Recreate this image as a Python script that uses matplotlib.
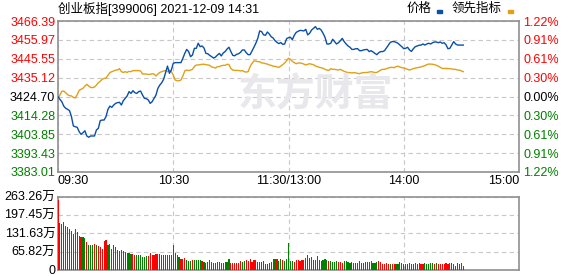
import matplotlib
matplotlib.use("Agg")
import matplotlib.pyplot as plt
from matplotlib.patches import Rectangle
import numpy as np

plt.rcParams['font.family'] = ['Liberation Sans', 'Noto Sans CJK SC', 'DejaVu Sans']

title = "创业板指[399006] 2021-12-09 14:31"
prev_close = 3424.70
price_ticks = [3466.39, 3455.97, 3445.55, 3435.12, 3424.70, 3414.28, 3403.85, 3393.43, 3383.01]
pct_labels = ["1.22%", "0.91%", "0.61%", "0.30%", "0.00%", "0.30%", "0.61%", "0.91%", "1.22%"]
time_ticks = [0, 60, 120, 180, 240]
time_labels = ["09:30", "10:30", "11:30/13:00", "14:00", "15:00"]
vol_ticks = [0, 65.82, 131.63, 197.45, 263.26]
vol_labels = ["0", "65.82万", "131.63万", "197.45万", "263.26万"]

# minute prices, 09:30 .. 14:31
price = [
    3424.6, 3423.1, 3421.8, 3419.4, 3418.2, 3417.6, 3416.9, 3413.6, 3408.4, 3408.0,
    3407.7, 3405.3, 3403.8, 3404.7, 3405.8, 3402.9, 3402.2, 3402.9, 3402.9, 3402.9,
    3406.2, 3407.1, 3411.4, 3411.7, 3411.7, 3413.6, 3417.6, 3419.4, 3418.7, 3420.0,
    3420.9, 3421.3, 3421.5, 3420.0, 3422.4, 3423.7, 3425.0, 3427.4, 3426.4, 3427.9,
    3426.8, 3426.4, 3427.4, 3427.7, 3425.5, 3423.7, 3423.5, 3422.8, 3420.9, 3421.8,
    3423.7, 3425.5, 3429.2, 3431.0, 3432.3, 3434.2, 3437.9, 3441.5, 3437.5, 3439.3,
    3443.0, 3443.4, 3443.4, 3443.4, 3443.4, 3445.8, 3448.5, 3450.7, 3449.5, 3446.7,
    3447.6, 3451.3, 3451.3, 3454.1, 3452.2, 3452.6, 3451.5, 3448.5, 3448.3, 3447.4,
    3446.7, 3445.9, 3446.5, 3447.6, 3448.5, 3447.1, 3448.7, 3449.5, 3450.9, 3451.9,
    3449.5, 3447.4, 3447.2, 3448.0, 3448.3, 3449.1, 3450.4, 3450.4, 3448.9, 3447.8,
    3447.8, 3449.8, 3451.9, 3454.1, 3456.8, 3460.9, 3460.5, 3458.8, 3458.5, 3460.3,
    3459.2, 3457.7, 3457.0, 3455.5, 3454.6, 3453.9, 3454.5, 3453.5, 3453.7, 3456.6,
    3457.2, 3457.4, 3456.1, 3458.5, 3460.1, 3460.7, 3461.2, 3461.1, 3460.9, 3461.8,
    3458.7, 3459.6, 3461.4, 3462.3, 3463.3, 3461.8, 3462.3, 3461.4, 3459.6, 3457.4,
    3453.7, 3453.7, 3454.1, 3456.3, 3455.0, 3453.7, 3454.4, 3455.5, 3456.8, 3455.0,
    3453.7, 3452.6, 3451.9, 3450.7, 3450.7, 3451.1, 3451.1, 3450.0, 3450.0, 3450.4,
    3450.6, 3450.7, 3449.5, 3450.0, 3449.3, 3448.5, 3447.8, 3448.9, 3449.5, 3449.5,
    3450.0, 3451.5, 3453.1, 3454.6, 3455.0, 3455.0, 3454.6, 3454.1, 3453.1, 3452.2,
    3451.1, 3451.3, 3451.9, 3450.4, 3449.6, 3451.1, 3452.2, 3452.6, 3453.0, 3453.1,
    3453.7, 3453.1, 3453.7, 3454.1, 3453.7, 3454.4, 3454.8, 3454.8, 3454.4, 3454.8,
    3454.1, 3454.4, 3453.3, 3451.1, 3451.3, 3453.1, 3455.0, 3453.7, 3453.1, 3453.1,
    3453.1, 3453.1,
]

# leading indicator
lead = [
    3423.5, 3425.5, 3427.6, 3427.7, 3426.8, 3425.7, 3425.2, 3425.0, 3424.2, 3423.9,
    3425.7, 3428.1, 3428.7, 3429.2, 3430.5, 3431.4, 3430.5, 3429.7, 3429.6, 3429.9,
    3431.0, 3432.3, 3433.1, 3434.2, 3434.7, 3434.9, 3436.4, 3437.9, 3438.4, 3438.8,
    3439.3, 3439.3, 3440.1, 3438.4, 3438.0, 3438.4, 3438.0, 3438.6, 3438.4, 3439.0,
    3439.0, 3439.0, 3439.0, 3438.8, 3437.1, 3437.1, 3437.1, 3436.9, 3436.9, 3437.3,
    3437.1, 3436.0, 3437.1, 3438.0, 3438.4, 3438.8, 3439.0, 3438.4, 3439.3, 3438.4,
    3436.6, 3433.8, 3433.4, 3433.4, 3433.8, 3436.0, 3438.8, 3439.3, 3439.0, 3439.3,
    3439.7, 3441.2, 3442.1, 3442.1, 3442.3, 3442.5, 3442.5, 3442.3, 3442.1, 3441.9,
    3441.0, 3440.8, 3440.4, 3441.2, 3441.2, 3441.7, 3441.9, 3441.9, 3442.5, 3442.3,
    3440.2, 3439.3, 3439.1, 3439.1, 3439.1, 3438.8, 3439.0, 3438.4, 3438.2, 3438.4,
    3441.2, 3443.0, 3444.3, 3444.3, 3443.9, 3443.9, 3443.2, 3443.2, 3442.8, 3442.6,
    3442.1, 3441.9, 3441.4, 3441.4, 3441.0, 3440.8, 3441.5, 3442.3, 3443.2, 3444.5,
    3445.8, 3445.2, 3444.1, 3443.4, 3442.8, 3443.2, 3443.2, 3443.0, 3442.6, 3442.1,
    3442.5, 3442.8, 3442.5, 3442.3, 3441.5, 3441.2, 3440.8, 3440.6, 3440.3, 3439.7,
    3439.3, 3439.1, 3440.1, 3439.7, 3439.7, 3439.5, 3439.3, 3439.7, 3439.1, 3438.6,
    3438.2, 3437.9, 3437.9, 3437.7, 3437.9, 3437.7, 3437.5, 3437.3, 3437.7, 3437.9,
    3437.9, 3438.0, 3438.2, 3438.4, 3438.2, 3437.9, 3438.0, 3438.6, 3439.3, 3439.7,
    3439.7, 3440.1, 3440.4, 3440.8, 3440.8, 3440.6, 3441.2, 3441.4, 3441.0, 3440.6,
    3440.4, 3440.1, 3439.7, 3439.3, 3439.7, 3440.1, 3440.4, 3440.6, 3440.8, 3441.0,
    3441.4, 3441.7, 3442.3, 3442.6, 3442.6, 3442.5, 3442.3, 3441.9, 3441.4, 3440.8,
    3440.2, 3440.2, 3440.2, 3440.1, 3440.1, 3439.9, 3439.7, 3439.7, 3439.3, 3439.3,
    3438.8, 3438.4,
]

# volume per minute (万手) and up/down flag (1 = red, 0 = green)
volume = [
    250, 168, 165, 172, 157, 154, 146, 139, 128, 146,
    135, 123, 117, 117, 113, 102, 91, 91, 91, 94,
    91, 85, 82, 77, 104, 106, 89, 94, 77, 88,
    82, 73, 69, 73, 67, 65, 61, 62, 57, 57,
    55, 55, 52, 55, 48, 48, 49, 51, 61, 55,
    55, 57, 57, 57, 55, 55, 55, 55, 55, 55,
    88, 61, 55, 45, 40, 40, 43, 37, 33, 33,
    35, 35, 35, 35, 35, 34, 28, 24, 28, 35,
    28, 24, 24, 28, 28, 24, 24, 28, 30, 40,
    24, 24, 24, 24, 24, 33, 30, 33, 35, 33,
    40, 30, 35, 35, 28, 28, 28, 33, 21, 21,
    24, 28, 40, 40, 40, 33, 40, 35, 33, 40,
    98, 33, 33, 28, 35, 35, 33, 35, 37, 43,
    55, 43, 48, 35, 35, 51, 35, 33, 35, 40,
    37, 33, 33, 30, 30, 33, 30, 27, 26, 33,
    33, 30, 26, 29, 26, 26, 26, 33, 26, 26,
    30, 28, 30, 33, 26, 26, 28, 33, 28, 22,
    22, 26, 23, 22, 22, 20, 22, 22, 30, 26,
    20, 22, 22, 26, 23, 22, 26, 23, 26, 22,
    22, 26, 23, 22, 26, 26, 23, 26, 22, 22,
    22, 22, 26, 22, 26, 26, 22, 15, 24, 22,
    24, 15,
]
up = [
    1, 0, 1, 0, 1, 0, 0, 0, 1, 0,
    0, 1, 1, 0, 0, 1, 0, 0, 0, 1,
    0, 1, 1, 1, 1, 1, 0, 1, 1, 0,
    1, 1, 1, 1, 1, 0, 0, 0, 0, 1,
    1, 0, 0, 0, 0, 0, 0, 1, 1, 1,
    1, 1, 1, 1, 1, 1, 1, 1, 1, 1,
    0, 0, 0, 0, 1, 1, 1, 0, 0, 0,
    1, 0, 0, 0, 0, 1, 0, 0, 1, 0,
    0, 1, 1, 1, 1, 0, 0, 1, 0, 0,
    1, 1, 1, 1, 1, 1, 0, 0, 1, 1,
    1, 1, 1, 1, 0, 0, 1, 0, 0, 0,
    0, 0, 0, 0, 1, 0, 0, 1, 0, 0,
    0, 0, 0, 1, 1, 1, 1, 1, 0, 1,
    0, 1, 1, 0, 0, 0, 0, 1, 0, 0,
    0, 1, 0, 0, 0, 0, 1, 1, 1, 0,
    0, 0, 0, 1, 1, 0, 0, 0, 1, 1,
    0, 0, 0, 0, 0, 0, 0, 1, 1, 1,
    1, 1, 1, 0, 1, 1, 0, 0, 1, 1,
    1, 0, 0, 1, 0, 0, 1, 1, 1, 1,
    1, 0, 0, 0, 0, 0, 1, 0, 1, 1,
    1, 1, 1, 1, 0, 0, 1, 0, 1, 0,
    1, 0,
]

RED = '#ff0000'
GREEN = '#008000'
BLACK = '#000000'
GRID = '#c8c8c8'
FRAME = '#909090'

t = np.arange(len(price))
lab_colors = [RED, RED, RED, RED, BLACK, GREEN, GREEN, GREEN, GREEN]

fig = plt.figure(figsize=(5.78, 2.76), dpi=100)
ax = fig.add_axes([58 / 578, 1 - 172 / 276, 461 / 578, 151 / 276])
axv = fig.add_axes([58 / 578, 1 - 270 / 276, 461 / 578, 73.5 / 276])

# watermark
fig.text(0.545, 0.655, "东方财富", fontsize=28, fontweight='bold', color='#e8e8ec',
         ha='center', va='center', family=['Noto Sans CJK SC'], zorder=0)

ax.plot(t, lead, color='#e0a018', lw=1.0, zorder=3)
ax.plot(t, price, color='#0a4fa8', lw=1.0, zorder=4)

ax.set_xlim(0, 240)
ax.set_ylim(price_ticks[-1], price_ticks[0])
ax.set_yticks(price_ticks)
ax.set_yticklabels([f"{v:.2f}" for v in price_ticks], fontsize=9)
for lbl, c in zip(ax.get_yticklabels(), lab_colors):
    lbl.set_color(c)
ax.set_xticks(time_ticks)
ax.set_xticklabels(time_labels, fontsize=9)
xl = ax.get_xticklabels()
xl[0].set_ha('left')
xl[-1].set_ha('right')
ax.tick_params(length=0, pad=2)
ax.grid(True, color=GRID, ls=(0, (4, 3)), lw=0.8)
for s in ax.spines.values():
    s.set_color(FRAME)
    s.set_linewidth(1.2)
ax.patch.set_alpha(0)

ax2 = ax.twinx()
ax2.set_ylim(ax.get_ylim())
ax2.set_yticks(price_ticks)
ax2.set_yticklabels(pct_labels, fontsize=9)
for lbl, c in zip(ax2.get_yticklabels(), lab_colors):
    lbl.set_color(c)
ax2.tick_params(length=0, pad=3)
for s in ax2.spines.values():
    s.set_visible(False)

# volume
bar_colors = [RED if u else GREEN for u in up]
axv.bar(t, volume, width=0.6, color=bar_colors, zorder=3)
axv.set_xlim(0, 240)
axv.set_ylim(0, vol_ticks[-1])
axv.set_yticks(vol_ticks)
axv.set_yticklabels(vol_labels, fontsize=9)
axv.set_xticks(time_ticks)
axv.set_xticklabels([])
axv.tick_params(length=0, pad=2)
axv.grid(True, color=GRID, ls=(0, (4, 3)), lw=0.8)
for s in axv.spines.values():
    s.set_color(FRAME)
    s.set_linewidth(1.2)

# title and legend
fig.text(58 / 578, 1 - 9 / 276, title, fontsize=9, va='center', ha='left')
fig.text(407 / 578, 1 - 9 / 276, "价格", fontsize=9, va='center', ha='left')
fig.add_artist(Rectangle((437 / 578, 1 - 13 / 276), 5 / 578, 3 / 276,
                         transform=fig.transFigure, color='#0a4fa8'))
fig.text(452 / 578, 1 - 9 / 276, "领先指标", fontsize=9, va='center', ha='left')
fig.add_artist(Rectangle((508 / 578, 1 - 13 / 276), 5 / 578, 3 / 276,
                         transform=fig.transFigure, color='#e0a018'))

fig.savefig("out.png", dpi=100)
